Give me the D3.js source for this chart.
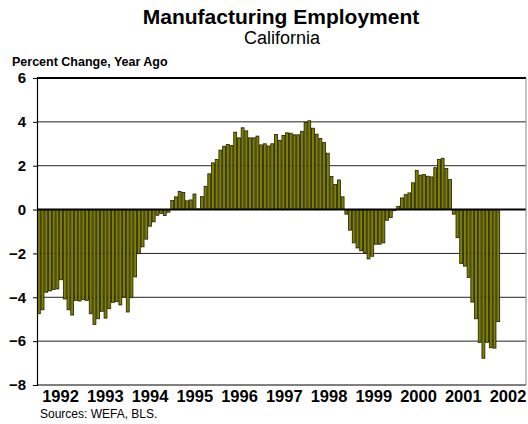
<!DOCTYPE html>
<html><head><meta charset="utf-8">
<script src="https://cdn.jsdelivr.net/npm/d3@7"></script>
<style>html,body{margin:0;padding:0;background:#fff;}svg{display:block;font-family:Arial,"Liberation Sans",sans-serif;}</style>
</head><body>
<svg id="c" width="528" height="424"></svg>
<script>
const years = [1992,1993,1994,1995,1996,1997,1998,1999,2000,2001,2002];
const monthsPerYear = 12;
const values = [
 -4.75,-4.57,-3.77,-3.71,-3.65,-3.62,-3.20,-4.08,-4.57,-4.81,-4.14,-4.17,
 -4.11,-4.14,-4.75,-5.24,-4.98,-4.64,-4.95,-4.52,-4.23,-4.20,-4.35,-3.99,
 -4.67,-4.02,-3.07,-2.01,-1.70,-1.35,-0.76,-0.56,-0.26,-0.18,-0.27,-0.12,
  0.41, 0.58, 0.82, 0.78, 0.40, 0.44, 0.71, 0.03, 0.59, 1.06, 1.63, 2.13,
  2.28, 2.71, 2.89, 2.97, 2.92, 3.53, 3.27, 3.73, 3.59, 3.27, 3.27, 3.35,
  2.95, 3.00, 2.90, 3.00, 3.42, 3.16, 3.38, 3.50, 3.48, 3.41, 3.41, 3.57,
  3.97, 4.05, 3.71, 3.44, 3.24, 3.06, 2.57, 1.51, 1.14, 1.35, 0.58,-0.21,
 -0.94,-1.52,-1.75,-1.88,-1.96,-2.25,-2.13,-1.58,-1.58,-1.52,-0.49,-0.36,
 -0.05, 0.15, 0.53, 0.68, 0.76, 1.22, 1.79, 1.57, 1.60, 1.52, 1.49, 1.91,
  2.28, 2.34, 1.87, 1.37,-0.21,-1.28,-2.46,-2.58,-3.10,-4.22,-4.98,-6.06,
 -6.78,-6.06,-6.30,-6.32,-5.11
];
const yTicks = [6,4,2,0,-2,-4,-6,-8];
const title = "Manufacturing Employment";
const subtitle = "California";
const yTitle = "Percent Change, Year Ago";
const source = "Sources: WEFA, BLS.";

const months = [];
years.forEach(y => { for (let m = 0; m < monthsPerYear; m++) months.push(y + "-" + m); });
const data = values.map((v, i) => ({key: months[i], v}));

const L = 37, R = 526, T = 78, B = 385;
const svg = d3.select("#c");
const x = d3.scaleBand().domain(months).range([L, R]).padding(0);
const y = d3.scaleLinear().domain([-8, 6]).range([B, T]);
const xl = d3.scalePoint().domain(years).range([60.5, 508]);

// gridlines
svg.append("g").selectAll("line").data(yTicks.filter(t => t !== 6 && t !== -8 && t !== 0)).join("line")
  .attr("x1", L).attr("x2", R).attr("y1", d => y(d)).attr("y2", d => y(d))
  .attr("stroke", "#222").attr("stroke-width", 1);

// bars
svg.append("g").selectAll("rect").data(data).join("rect")
  .attr("x", d => x(d.key) + 0.4)
  .attr("width", x.bandwidth() - 0.8)
  .attr("y", d => y(Math.max(0, d.v)))
  .attr("height", d => Math.abs(y(d.v) - y(0)))
  .attr("fill", "#808000")
  .attr("stroke", "#1c1c00")
  .attr("stroke-width", 0.8);

// zero line
svg.append("line").attr("x1", L).attr("x2", R).attr("y1", y(0)).attr("y2", y(0))
  .attr("stroke", "#000").attr("stroke-width", 2);

// frame
svg.append("line").attr("x1", L).attr("x2", R).attr("y1", y(6)).attr("y2", y(6)).attr("stroke", "#000").attr("stroke-width", 2);
svg.append("line").attr("x1", L).attr("x2", R).attr("y1", y(-8)).attr("y2", y(-8)).attr("stroke", "#000").attr("stroke-width", 1);
svg.append("line").attr("x1", R).attr("x2", R).attr("y1", T).attr("y2", B).attr("stroke", "#888").attr("stroke-width", 1);

// y axis
const yAxis = d3.axisLeft(y).tickValues(yTicks).tickSize(4).tickPadding(7).tickFormat(d3.format("d"));
const ga = svg.append("g").attr("transform", `translate(${L},0)`).call(yAxis);
ga.select(".domain").attr("stroke", "#000").attr("stroke-width", 1.2);
ga.selectAll(".tick line").attr("stroke", "#000");
ga.selectAll(".tick text").attr("font-size", 15).attr("font-weight", "bold").attr("fill", "#000")
  .attr("font-family", "Arial, 'Liberation Sans', sans-serif");

// x labels
svg.append("g").selectAll("text").data(years).join("text")
  .attr("x", d => xl(d)).attr("y", 402)
  .attr("text-anchor", "middle").attr("font-size", 16.5).attr("font-weight", "bold")
  .text(d => d);

// titles
svg.append("text").attr("x", 281).attr("y", 23.5).attr("text-anchor", "middle")
  .attr("font-size", 21).attr("font-weight", "bold").text(title);
svg.append("text").attr("x", 282).attr("y", 44).attr("text-anchor", "middle")
  .attr("font-size", 18).text(subtitle);
svg.append("text").attr("x", 12).attr("y", 66)
  .attr("font-size", 12.5).attr("font-weight", "bold").text(yTitle);
svg.append("text").attr("x", 40).attr("y", 418)
  .attr("font-size", 12).text(source);
</script>
</body></html>
